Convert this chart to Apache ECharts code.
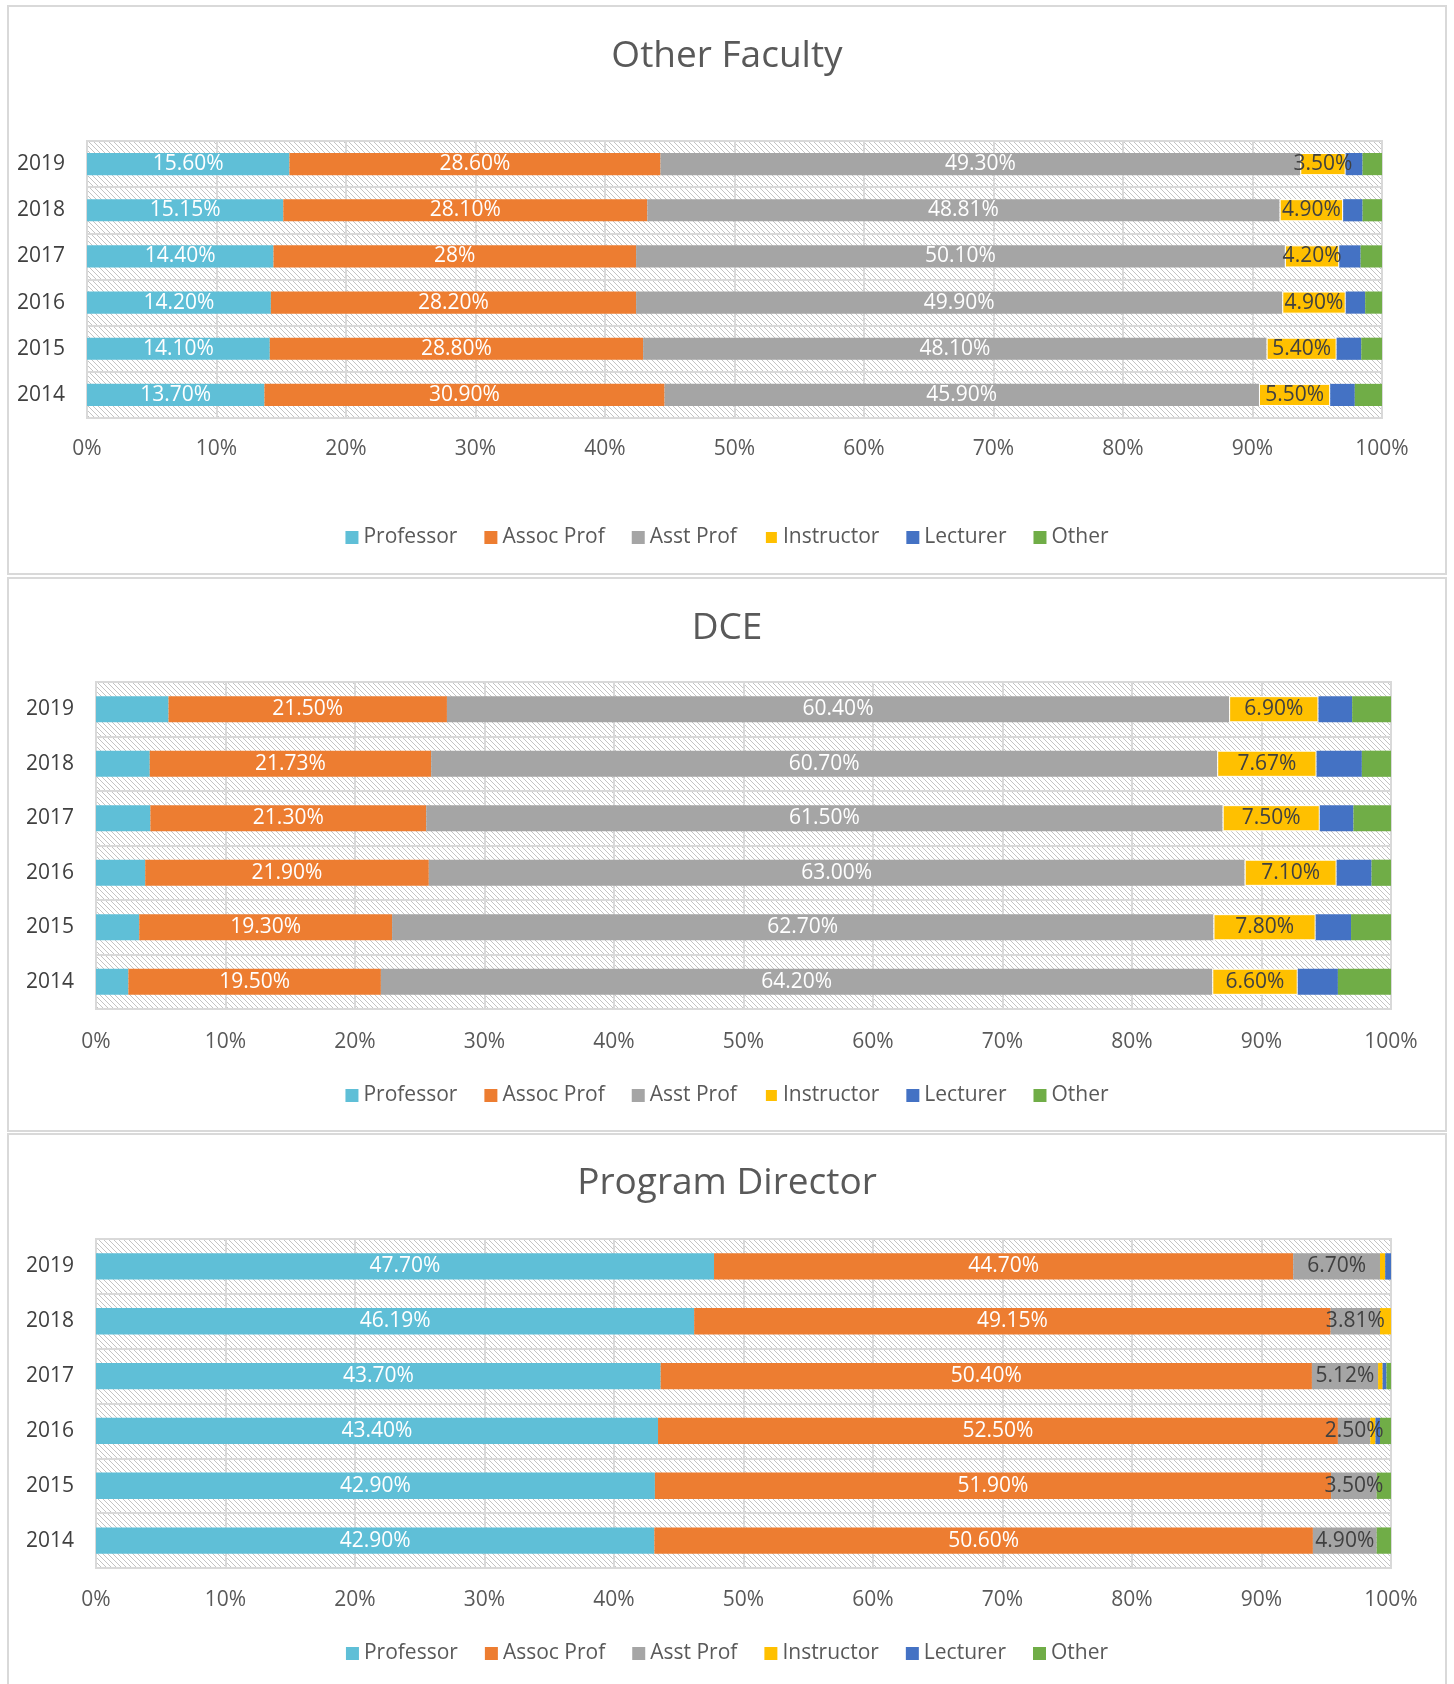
<!DOCTYPE html>
<html>
<head>
<meta charset="utf-8">
<script src="https://cdn.jsdelivr.net/npm/echarts@6/dist/echarts.min.js"></script>
<style>
  body { margin: 0; background: #fff; width: 1454px; height: 1684px; position: relative; overflow: hidden; }
  .panel { position: absolute; left: 7px; width: 1440px; border: 2px solid #d9d9d9; box-sizing: border-box; background: #fff; }
</style>
</head>
<body>
<div id="otherFaculty" class="panel" style="top:5px; height:570px"></div>
<div id="dce" class="panel" style="top:577px; height:555px"></div>
<div id="programDirector" class="panel" style="top:1133px; height:560px"></div>
<script>
// years, top row first
var years = ['2019', '2018', '2017', '2016', '2015', '2014'];
var xTicks = [0, 10, 20, 30, 40, 50, 60, 70, 80, 90, 100];

// Other Faculty (strings = printed labels)
var ofProfessor = ['15.60', '15.15', '14.40', '14.20', '14.10', '13.70'];
var ofAssoc = ['28.60', '28.10', '28', '28.20', '28.80', '30.90'];
var ofAsst = ['49.30', '48.81', '50.10', '49.90', '48.10', '45.90'];
var ofInstructor = ['3.50', '4.90', '4.20', '4.90', '5.40', '5.50'];
var ofLecturer = [1.3, 1.5, 1.65, 1.5, 1.9, 1.9];
var ofOther = [1.5, 1.5, 1.65, 1.3, 1.6, 2.1];

// DCE
var dceProfessor = [5.6, 4.15, 4.2, 3.8, 3.3, 2.5];
var dceAssoc = ['21.50', '21.73', '21.30', '21.90', '19.30', '19.50'];
var dceAsst = ['60.40', '60.70', '61.50', '63.00', '62.70', '64.20'];
var dceInstructor = ['6.90', '7.67', '7.50', '7.10', '7.80', '6.60'];
var dceLecturer = [2.6, 3.5, 2.6, 2.7, 2.7, 3.1];
var dceOther = [3.0, 2.25, 2.9, 1.5, 3.05, 4.1];

// Program Director
var pdProfessor = ['47.70', '46.19', '43.70', '43.40', '42.90', '42.90'];
var pdAssoc = ['44.70', '49.15', '50.40', '52.50', '51.90', '50.60'];
var pdAsst = ['6.70', '3.81', '5.12', '2.50', '3.50', '4.90'];
var pdInstructor = [0.4, 0.85, 0.35, 0.4, 0, 0];
var pdLecturer = [0.45, 0, 0.3, 0.35, 0, 0];
var pdOther = [0, 0, 0.35, 0.85, 1.1, 1.1];

var names = ['Professor', 'Assoc Prof', 'Asst Prof', 'Instructor', 'Lecturer', 'Other'];
var colors = ['#5fbfd7', '#ed7d31', '#a5a5a5', '#ffc000', '#4472c4', '#70ad47'];
var FONT = 'Open Sans';

function hatch() {
  var c = document.createElement('canvas');
  c.width = 5; c.height = 5;
  var ctx = c.getContext('2d');
  ctx.fillStyle = '#ffffff';
  ctx.fillRect(0, 0, 5, 5);
  ctx.fillStyle = '#c4c4c4';
  for (var i = 0; i < 5; i++) ctx.fillRect(i, i, 1, 1);
  return c;
}

function drawPanel(domId, title, cols, labelColors, lay) {
  var chart = echarts.init(document.getElementById(domId));
  // 100% stacked: each row is scaled to its own total, like the source sheet
  var totals = years.map(function (y, i) {
    return cols.reduce(function (s, col) { return s + parseFloat(col[i]); }, 0);
  });
  var series = cols.map(function (col, k) {
    return {
      name: names[k],
      type: 'bar',
      stack: 'all',
      barWidth: '48%',
      itemStyle: k === 3 && lay.instrBorder ? { color: colors[k], borderColor: '#fff', borderWidth: 1 } : { color: colors[k] },
      label: {
        show: !!labelColors[k],
        position: 'inside',
        color: labelColors[k] || '#fff',
        fontFamily: FONT,
        fontSize: 21,
        formatter: function (p) { return col[p.dataIndex] + '%'; }
      },
      data: col.map(function (v, i) { return parseFloat(v) / totals[i] * 100; })
    };
  });
  chart.setOption({
    textStyle: { fontFamily: FONT },
    title: {
      text: title, left: 'center', top: lay.titleTop,
      textStyle: { fontFamily: FONT, fontSize: 37, fontWeight: 'normal', color: '#595959' }
    },
    legend: {
      data: names, top: lay.legendTop, left: 'center',
      itemWidth: 13, itemHeight: 13, itemGap: 27, icon: 'rect',
      textStyle: { fontFamily: FONT, fontSize: 21, color: '#595959' }
    },
    grid: {
      left: lay.left, right: lay.right, top: lay.top, height: lay.height,
      show: true, borderColor: '#d9d9d9', borderWidth: 2,
      backgroundColor: { image: hatch(), repeat: 'repeat' }
    },
    xAxis: {
      type: 'value', min: 0, max: 100, interval: 10,
      axisLine: { show: false }, axisTick: { show: false },
      splitLine: { show: true, lineStyle: { color: '#d9d9d9', width: 2 } },
      axisLabel: {
        margin: lay.xMargin, fontSize: 21, color: '#595959', fontFamily: FONT,
        formatter: function (v) { return xTicks.indexOf(v) >= 0 ? v + '%' : ''; }
      }
    },
    yAxis: {
      type: 'category', data: years, inverse: true,
      axisLine: { show: false }, axisTick: { show: false },
      splitLine: { show: true, lineStyle: { color: '#d9d9d9', width: 2 } },
      axisLabel: { margin: lay.yMargin, fontSize: 21, color: '#404040', fontFamily: FONT }
    },
    series: series
  });
}

drawPanel('otherFaculty', 'Other Faculty',
  [ofProfessor, ofAssoc, ofAsst, ofInstructor, ofLecturer, ofOther],
  ['#fff', '#fff', '#fff', '#404040', null, null],
  { left: 78, right: 63, top: 134, height: 277, titleTop: 26, legendTop: 515, xMargin: 21, yMargin: 22, instrBorder: true });

drawPanel('dce', 'DCE',
  [dceProfessor, dceAssoc, dceAsst, dceInstructor, dceLecturer, dceOther],
  [null, '#fff', '#fff', '#404040', null, null],
  { left: 87, right: 54, top: 103, height: 327, titleTop: 26, legendTop: 501, xMargin: 23, yMargin: 22, instrBorder: true });

drawPanel('programDirector', 'Program Director',
  [pdProfessor, pdAssoc, pdAsst, pdInstructor, pdLecturer, pdOther],
  ['#fff', '#fff', '#404040', null, null, null],
  { left: 87, right: 54, top: 104, height: 329, titleTop: 25, legendTop: 503, xMargin: 22, yMargin: 22, instrBorder: false });
</script>
</body>
</html>
